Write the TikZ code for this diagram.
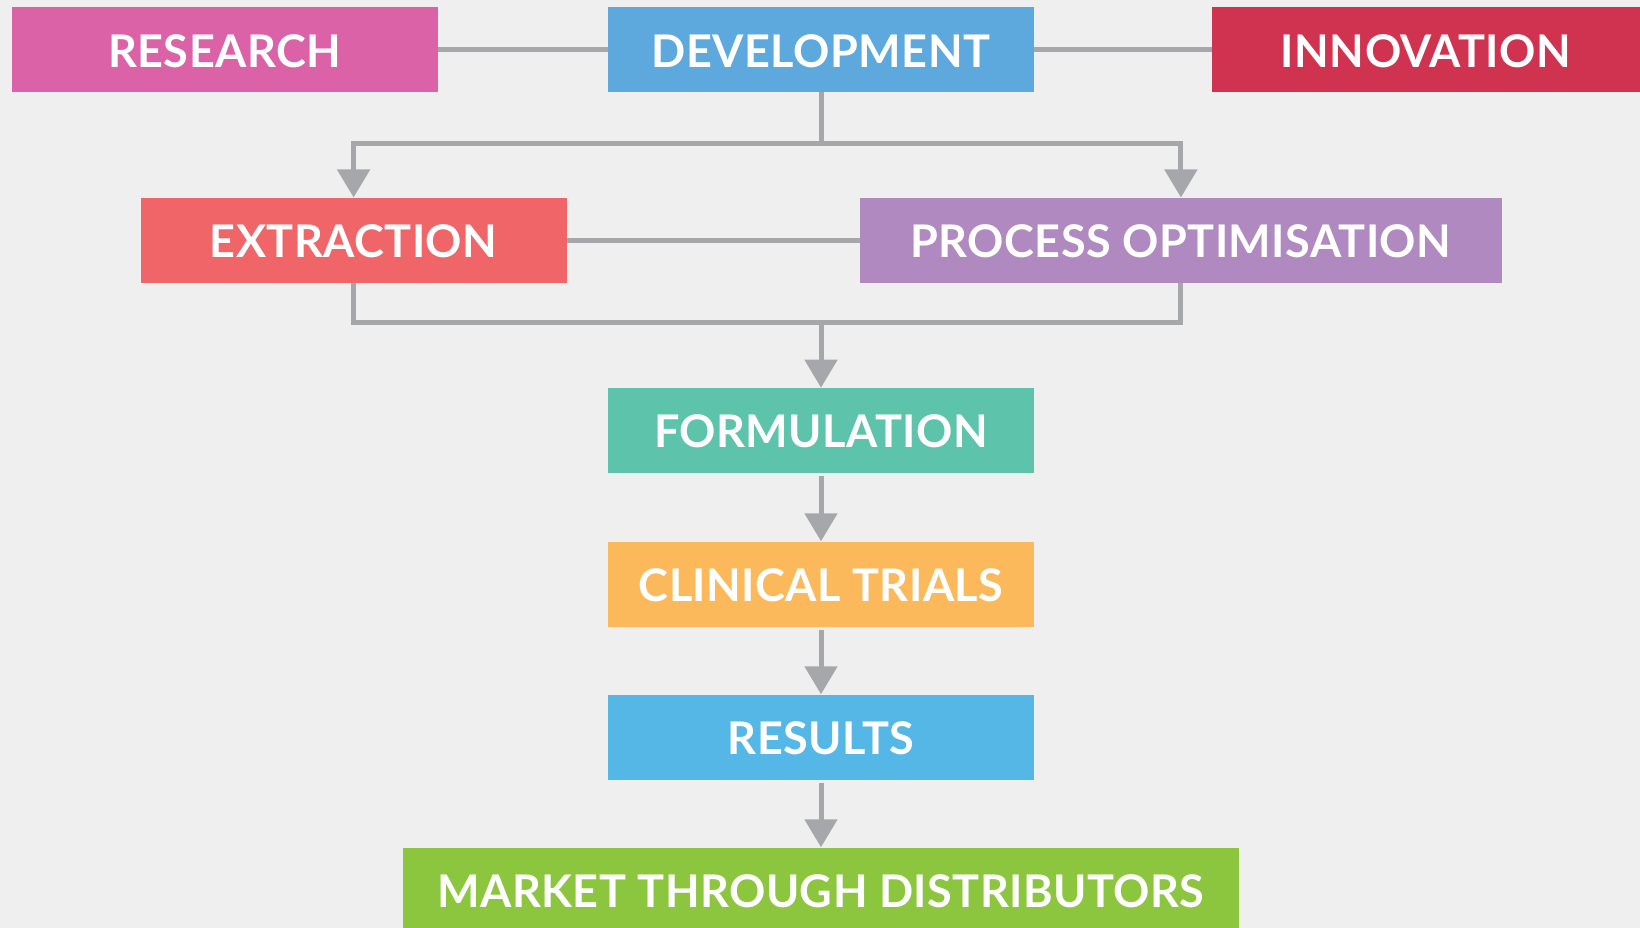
\documentclass[tikz,border=0pt]{standalone}
\usepackage{fontspec}
\setmainfont{Lato}[LetterSpace=1]
\usepackage{xcolor}
\usepackage{tikz}
\usetikzlibrary{arrows.meta}

\definecolor{paper}{HTML}{EFEFEF}
\definecolor{linegray}{HTML}{A6A7AB}
\definecolor{researchpink}{HTML}{DB62A6}
\definecolor{devblue}{HTML}{5DA9DD}
\definecolor{innovred}{HTML}{D0334F}
\definecolor{extractred}{HTML}{F06567}
\definecolor{processpurple}{HTML}{B089C0}
\definecolor{formteal}{HTML}{5DC3AA}
\definecolor{trialorange}{HTML}{FBB95C}
\definecolor{resultblue}{HTML}{55B7E6}
\definecolor{marketgreen}{HTML}{8CC63F}

\begin{document}
\begin{tikzpicture}[x=1pt, y=-1pt,
    stage/.style = {rectangle,
      inner sep = 0pt,
      text = white,
      text height = 35pt,
      text depth = 0pt,
      font = \fontsize{45}{50}\selectfont\bfseries,
      minimum width = 426pt,
      minimum height = 85pt},
    link/.style = {draw = linegray, line width = 5pt},
    flow/.style = {link, -{Triangle[width=32pt,length=28pt]}}]

  % paper background
  \clip (0,0) rectangle (1640,928);
  \fill[paper] (0,0) rectangle (1640,928);

  % top row
  \node[stage, fill = researchpink] (research) at (224.6,49.7) {RESEARCH};
  \node[stage, fill = devblue] (development) at (821,49.7) {DEVELOPMENT};
  \node[stage, fill = innovred, minimum width = 428pt] (innovation) at (1426,49.7) {INNOVATION};

  % second row
  \node[stage, fill = extractred] (extraction) at (353.6,240.2) {EXTRACTION};
  \node[stage, fill = processpurple, minimum width = 642pt] (process) at (1180.9,240.2) {PROCESS OPTIMISATION};

  % the column down the middle
  \node[stage, fill = formteal] (formulation) at (821,430.4) {FORMULATION};
  \node[stage, fill = trialorange] (trials) at (821,584) {CLINICAL TRIALS};
  \node[stage, fill = resultblue] (results) at (821,737) {RESULTS};
  \node[stage, fill = marketgreen, minimum width = 836pt] (market) at (821,890) {MARKET THROUGH DISTRIBUTORS};

  % side links on the top rows
  \draw[link] (research) -- (development);
  \draw[link] (development) -- (innovation);
  \draw[link] (extraction) -- (process);

  % split below development
  \coordinate (split) at (821,144);
  \draw[link] (development.south) -- (split);
  \draw[flow] (split) -| (extraction.north);
  \draw[flow] (split) -| (process.north);

  % merge into formulation
  \coordinate (merge) at (821,322);
  \draw[link] (extraction.south) |- (merge) -| (process.south);
  \draw[flow] (merge) -- (formulation);

  % straight chain
  \draw[flow, shorten <= 3pt] (formulation) -- (trials);
  \draw[flow, shorten <= 3pt] (trials) -- (results);
  \draw[flow, shorten <= 3pt] (results) -- (market);

\end{tikzpicture}
\end{document}
